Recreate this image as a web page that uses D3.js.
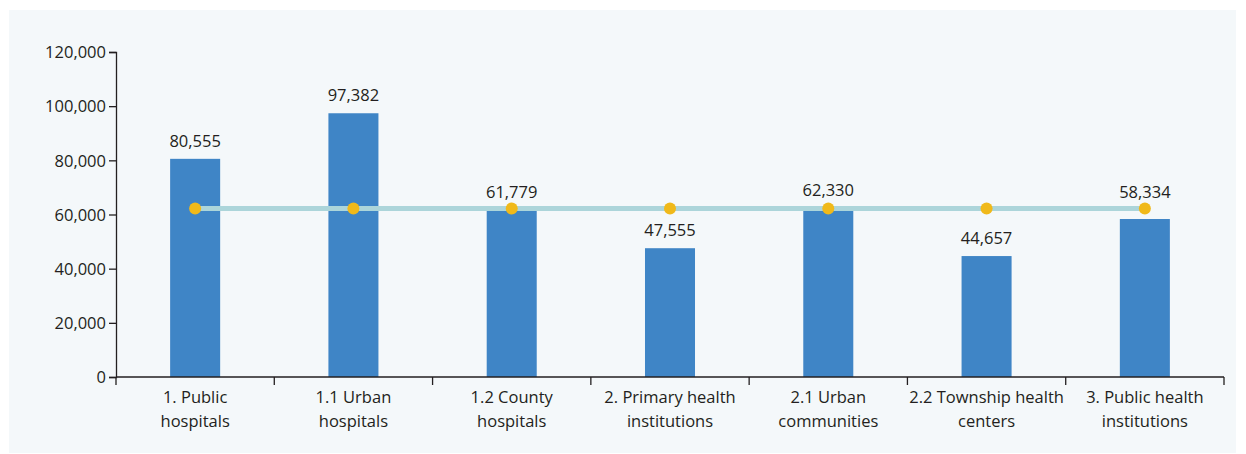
<!DOCTYPE html>
<html><head><meta charset="utf-8">
<script src="https://cdn.jsdelivr.net/npm/d3@7"></script>
<style>
body{margin:0;background:#fff;}
svg{display:block;}
text{font-family:"Open Sans",sans-serif;fill:#231f20;}
</style></head>
<body>
<svg id="c" width="1246" height="454"></svg>
<script>
const categories = [["1. Public","hospitals"],["1.1 Urban","hospitals"],["1.2 County","hospitals"],["2. Primary health","institutions"],["2.1 Urban","communities"],["2.2 Township health","centers"],["3. Public health","institutions"]];
const values = [80555, 97382, 61779, 47555, 62330, 44657, 58334];
const average = [62200, 62200, 62200, 62200, 62200, 62200, 62200];
const yTicks = [0, 20000, 40000, 60000, 80000, 100000, 120000];

const svg = d3.select("#c");
svg.append("rect").attr("x",9).attr("y",10).attr("width",1227).attr("height",443).attr("fill","#f4f8fa");

const m = {l:116, r:1224, t:52, b:377};
const x = d3.scaleBand().domain(d3.range(values.length)).range([m.l, m.r]).paddingInner(0.684).paddingOuter(0.342);
const xb = d3.scaleBand().domain(d3.range(values.length)).range([m.l, m.r]);
const y = d3.scaleLinear().domain([0,120000]).range([m.b, m.t]);

// bars
svg.append("g").selectAll("rect").data(values).join("rect")
  .attr("x",(d,i)=>x(i)).attr("y",d=>y(d)).attr("width",x.bandwidth()).attr("height",d=>y(0)-y(d))
  .attr("fill","#3f85c6");

// value labels (moved above the line when the line would cross them)
function labelY(d,i){
  const barTop = y(d), lineY = y(average[i]);
  const base = barTop - 12;
  if (lineY > base - 22 && lineY < barTop + 2) return Math.min(base, lineY - 11);
  return base;
}
svg.append("g").selectAll("text").data(values).join("text")
  .attr("x",(d,i)=>x(i)+x.bandwidth()/2).attr("y",labelY)
  .attr("text-anchor","middle").attr("font-size",16.5).text(d=>d3.format(",")(d));

// y axis
const ya = svg.append("g").attr("transform",`translate(${m.l},0)`)
  .call(d3.axisLeft(y).tickValues(yTicks).tickFormat(d3.format(",")).tickSize(7).tickPadding(3));
ya.select(".domain").attr("stroke","#231f20").attr("stroke-width",1.3);
ya.selectAll(".tick line").attr("stroke","#231f20").attr("stroke-width",1.3);
ya.selectAll(".tick text").attr("font-size",16.5).attr("font-family","Open Sans").attr("fill","#231f20").attr("dy","0.35em");

// x axis
const xa = svg.append("g").attr("transform",`translate(0,${m.b})`);
xa.append("line").attr("x1",m.l).attr("x2",m.r).attr("stroke","#231f20").attr("stroke-width",1.3);
xa.selectAll("line.t").data(d3.range(values.length+1)).join("line").attr("class","t")
  .attr("x1",i=>i<values.length?xb(i):m.r).attr("x2",i=>i<values.length?xb(i):m.r)
  .attr("y1",0).attr("y2",8).attr("stroke","#231f20").attr("stroke-width",1.3);
const lab = xa.selectAll("text").data(categories).join("text")
  .attr("text-anchor","middle").attr("font-size",16.5)
  .attr("transform",(d,i)=>`translate(${xb(i)+xb.bandwidth()/2},0)`);
lab.selectAll("tspan").data(d=>d).join("tspan").attr("x",0).attr("y",(d,j)=>26+j*24).text(d=>d);

// average line
const line = d3.line().x((d,i)=>x(i)+x.bandwidth()/2).y(d=>y(d));
svg.append("path").datum(average).attr("d",line).attr("fill","none").attr("stroke","#acd5da").attr("stroke-width",5);
svg.append("g").selectAll("circle").data(average).join("circle")
  .attr("cx",(d,i)=>x(i)+x.bandwidth()/2).attr("cy",d=>y(d)).attr("r",6).attr("fill","#f0b91a");
</script>
</body></html>
